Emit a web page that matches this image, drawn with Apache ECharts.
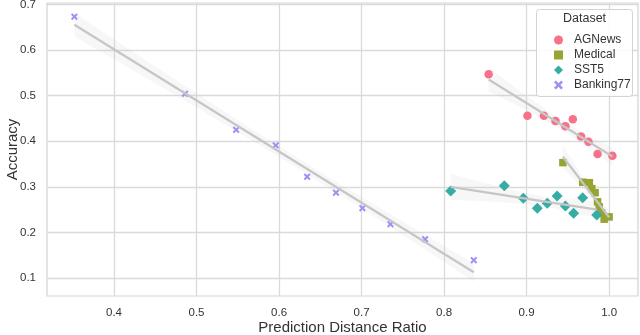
<!DOCTYPE html>
<html>
<head>
<meta charset="utf-8">
<script src="https://cdn.jsdelivr.net/npm/echarts@6/dist/echarts.min.js"></script>
<style>
  html, body { margin: 0; padding: 0; background: #fff; }
  #main { width: 640px; height: 335px; }
</style>
</head>
<body>
<div id="main"></div>
<script>
// data
var names = ['AGNews', 'Medical', 'SST5', 'Banking77'];
var agX = [0.854, 0.901, 0.921, 0.935, 0.947, 0.956, 0.966, 0.975, 0.986, 1.004];
var agY = [0.547, 0.456, 0.456, 0.444, 0.433, 0.448, 0.410, 0.399, 0.372, 0.368];
var medX = [0.944, 0.968, 0.976, 0.979, 0.983, 0.986, 0.988, 0.991, 0.994, 1.000];
var medY = [0.353, 0.310, 0.309, 0.296, 0.287, 0.267, 0.256, 0.243, 0.229, 0.234];
var sstX = [0.808, 0.873, 0.896, 0.913, 0.925, 0.937, 0.947, 0.957, 0.968, 0.985];
var sstY = [0.291, 0.302, 0.275, 0.253, 0.264, 0.280, 0.258, 0.242, 0.276, 0.238];
var bankX = [0.352, 0.486, 0.548, 0.596, 0.634, 0.669, 0.701, 0.735, 0.777, 0.836];
var bankY = [0.673, 0.504, 0.425, 0.391, 0.322, 0.287, 0.253, 0.218, 0.185, 0.139];
var xTicks = [0.4, 0.5, 0.6, 0.7, 0.8, 0.9, 1.0];
var yTicks = [0.1, 0.2, 0.3, 0.4, 0.5, 0.6, 0.7];

var colors = ['#f77189', '#97a431', '#36ada4', '#a48cf4'];
var xPath = 'path://M2,0L5,3L8,0L10,2L7,5L10,8L8,10L5,7L2,10L0,8L3,5L0,2Z';
var symbols = ['circle', 'rect', 'diamond', xPath];
var sizes = [8.5, 7.5, 11, 7];
var allX = [agX, medX, sstX, bankX];
var allY = [agY, medY, sstY, bankY];
var font = 'Liberation Sans, Arial, sans-serif';

// least squares fit + 95% confidence band (like seaborn regplot)
function fit(xs, ys) {
    var n = xs.length, mx = 0, my = 0;
    for (var i = 0; i < n; i++) { mx += xs[i]; my += ys[i]; }
    mx /= n; my /= n;
    var sxx = 0, sxy = 0;
    for (var i = 0; i < n; i++) { sxx += (xs[i] - mx) * (xs[i] - mx); sxy += (xs[i] - mx) * (ys[i] - my); }
    var b = sxy / sxx, a = my - b * mx;
    var sse = 0;
    for (var i = 0; i < n; i++) { var r = ys[i] - (a + b * xs[i]); sse += r * r; }
    var s = Math.sqrt(sse / (n - 2));
    var t = 2.306;
    var lo = Math.min.apply(null, xs), hi = Math.max.apply(null, xs);
    var upper = [], lower = [];
    for (var k = 0; k <= 30; k++) {
        var x = lo + (hi - lo) * k / 30;
        var yh = a + b * x;
        var h = t * s * Math.sqrt(1 / n + (x - mx) * (x - mx) / sxx);
        upper.push([x, yh + h]);
        lower.unshift([x, yh - h]);
    }
    return { line: [[lo, a + b * lo], [hi, a + b * hi]], band: upper.concat(lower) };
}

var series = [];
var fits = names.map(function (nm, i) { return fit(allX[i], allY[i]); });

series.push({
    type: 'custom',
    silent: true,
    z: 1,
    data: fits.map(function (f) { return f.line[0]; }),
    renderItem: function (params, api) {
        var pts = fits[params.dataIndex].band.map(function (p) { return api.coord(p); });
        return { type: 'polygon', shape: { points: pts }, style: { fill: 'rgba(200,200,200,0.15)' } };
    }
});

names.forEach(function (nm, i) {
    series.push({
        name: nm,
        type: 'scatter',
        symbol: symbols[i],
        symbolSize: sizes[i],
        z: 3,
        itemStyle: { color: colors[i], opacity: 1 },
        data: allX[i].map(function (x, j) { return [x, allY[i][j]]; })
    });
    series.push({
        type: 'line',
        silent: true,
        symbol: 'none',
        z: 4,
        lineStyle: { color: '#c6c6c6', width: 2.2 },
        data: fits[i].line
    });
});

var myChart = echarts.init(document.getElementById('main'));
var option = {
    animation: false,
    backgroundColor: '#fff',
    grid: { left: 47, right: 2, top: 3, bottom: 39, outerBoundsMode: 'none', containLabel: false,
        show: true, borderColor: '#d3d3d3', borderWidth: 1.2 },
    xAxis: {
        type: 'value',
        min: 0.3188, max: 1.035,
        name: 'Prediction Distance Ratio',
        nameLocation: 'middle',
        nameMoveOverlap: false,
        nameGap: 24,
        nameTextStyle: { fontFamily: font, fontSize: 15, color: '#333' },
        axisLine: { show: false },
        axisTick: { show: false, customValues: xTicks },
        axisLabel: { customValues: xTicks, margin: 11, fontFamily: font, fontSize: 11.5, color: '#333',
            formatter: function (v) { return v.toFixed(1); } },
        splitLine: { lineStyle: { color: '#dadada', width: 1.3 } }
    },
    yAxis: {
        type: 'value',
        min: 0.0605, max: 0.703,
        name: 'Accuracy',
        nameLocation: 'middle',
        nameMoveOverlap: false,
        nameGap: 27,
        nameTextStyle: { fontFamily: font, fontSize: 15, color: '#333' },
        axisLine: { show: false },
        axisTick: { show: false, customValues: yTicks },
        axisLabel: { customValues: yTicks, margin: 11, fontFamily: font, fontSize: 11.5, color: '#333',
            formatter: function (v) { return v.toFixed(1); } },
        splitLine: { lineStyle: { color: '#dadada', width: 1.3 } }
    },
    legend: {
        data: names,
        orient: 'vertical',
        left: 549, top: 29,
        itemWidth: 9, itemHeight: 9,
        itemGap: 3,
        z: 6,
        textStyle: { fontFamily: font, fontSize: 12, color: '#333', padding: [0, 0, 0, 6] }
    },
    graphic: [
        { type: 'rect', left: 536, top: 9, z: 5, shape: { width: 96, height: 87, r: 3 },
          style: { fill: 'rgba(255,255,255,0.85)', stroke: '#d3d3d3', lineWidth: 1 } },
        { type: 'text', left: 563, top: 12, z: 6,
          style: { text: 'Dataset', fontFamily: font, fontSize: 12.5, fill: '#333' } }
    ],
    series: series
};
myChart.setOption(option);
</script>
</body>
</html>
